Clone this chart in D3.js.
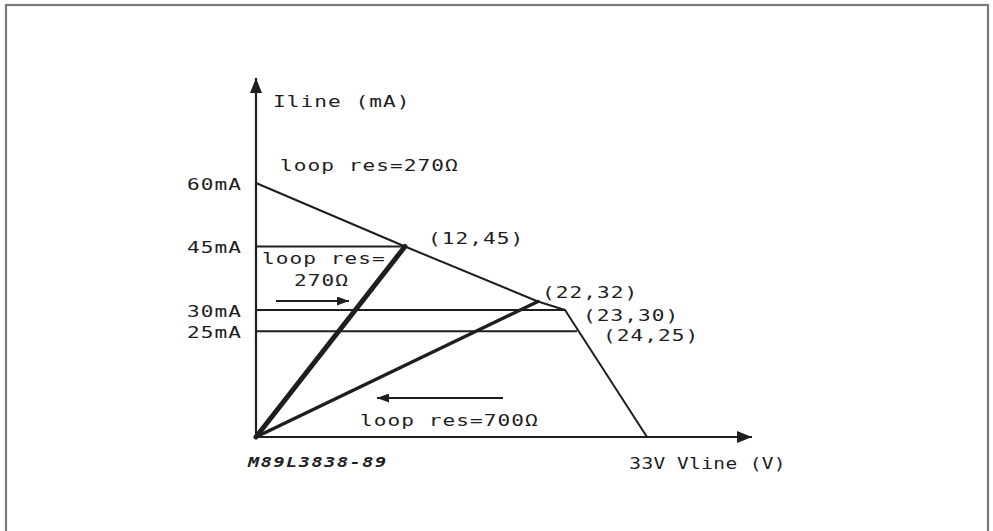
<!DOCTYPE html>
<html>
<head>
<meta charset="utf-8">
<script src="https://cdn.jsdelivr.net/npm/d3@7"></script>
<style>
  html, body { margin: 0; padding: 0; background: #fff; }
  svg { display: block; }
</style>
</head>
<body>
<svg id="chart" width="993" height="531"></svg>
<script>
// ---- Data -------------------------------------------------------------
// Line voltage break points (V) of the DC characteristic
const voltagePoints = [0, 12, 22, 23, 24, 33];
// Current limit curve, [Vline (V), Iline (mA)]
const limitCurve = [[0, 60], [12, 45], [22, 32], [23, 30], [33, 0]];
// Load lines from the origin
const loadLine270 = [[0, 0], [12, 45]];
const loadLine700 = [[0, 0], [22, 32]];
// Horizontal current levels, each ending on the limit curve
const levelEnds = [[12, 45], [23, 30], [24, 25]];
// Labelled operating points
const operatingPoints = [[12, 45], [22, 32], [23, 30], [24, 25]];
// Axis ticks
const currentTicks = [60, 45, 30, 25];
const currentTickLabels = ["60mA", "45mA", "30mA", "25mA"];
const voltageTicks = [33];
const voltageTickLabels = ["33V"];
// Annotation texts
const yTitle = "Iline (mA)";
const xTitle = "Vline (V)";
const upperNote = "loop res=270Ω";
const note270 = ["loop res=", "270Ω"];
const note700 = "loop res=700Ω";
const figureId = "M89L3838-89";

// ---- Layout -----------------------------------------------------------
const svg = d3.select("#chart");
const ink = "#1e1e1e";
const FONT = "'DejaVu Sans Mono', 'Liberation Mono', monospace";
const SX = 1.32;   // horizontal stretch of the plotter-style lettering
const SX_X = 1.22; // slightly narrower lettering along the voltage axis

// The voltage axis is schematic: the break points are spread out for legibility
const x = d3.scaleLinear().domain(voltagePoints).range([256, 405, 538, 565, 577, 647]);
const y = d3.scaleLinear().domain([0, 60]).range([437, 183]);
const xTip = 752, yTip = 78;

// frame
svg.append("rect")
  .attr("x", 6).attr("y", 5).attr("width", 982).attr("height", 560)
  .attr("fill", "none").attr("stroke", "#7a7a7a").attr("stroke-width", 2.2);

const defs = svg.append("defs");
function arrowMarker(id, len, half) {
  defs.append("marker")
    .attr("id", id).attr("markerUnits", "userSpaceOnUse")
    .attr("markerWidth", len).attr("markerHeight", half * 2)
    .attr("refX", len).attr("refY", half).attr("orient", "auto")
    .append("path")
    .attr("d", `M0,0 L${len},${half} L0,${half * 2} Z`)
    .attr("fill", ink);
}
arrowMarker("axisHead", 15, 6);
arrowMarker("noteHead", 12, 4.5);

function plotText(parent, txt, px, py, opts = {}) {
  const sx = opts.sx || SX;
  const t = parent.append("text")
    .attr("transform", `translate(${px},${py}) scale(${sx},1)`)
    .attr("font-family", FONT)
    .attr("font-size", opts.size || 16)
    .attr("letter-spacing", opts.spacing != null ? opts.spacing : 0.8)
    .attr("fill", ink)
    .text(txt);
  if (opts.weight) t.attr("font-weight", opts.weight);
  if (opts.style) t.attr("font-style", opts.style);
  if (opts.anchor) t.attr("text-anchor", opts.anchor);
  return t;
}

const line = d3.line().x(d => x(d[0])).y(d => y(d[1]));

// axes with arrow heads
svg.append("line")
  .attr("x1", x(0)).attr("y1", y(0)).attr("x2", x(0)).attr("y2", yTip)
  .attr("stroke", ink).attr("stroke-width", 2.2).attr("marker-end", "url(#axisHead)");
svg.append("line")
  .attr("x1", x(0)).attr("y1", y(0)).attr("x2", xTip).attr("y2", y(0))
  .attr("stroke", ink).attr("stroke-width", 2.2).attr("marker-end", "url(#axisHead)");

// y tick labels through d3.axisLeft
const yAxis = svg.append("g")
  .attr("transform", `translate(${x(0)},0)`)
  .call(d3.axisLeft(y).tickValues(currentTicks).tickSize(0)
        .tickFormat((d, i) => currentTickLabels[i]));
yAxis.select(".domain").remove();
yAxis.selectAll(".tick text")
  .attr("x", null).attr("dy", null)
  .attr("transform", `translate(-14,6) scale(${SX},1)`)
  .attr("font-family", FONT).attr("font-size", 16)
  .attr("letter-spacing", 0.8).attr("fill", ink)
  .attr("text-anchor", "end");

// x tick label through d3.axisBottom
const xAxis = svg.append("g")
  .attr("transform", `translate(0,${y(0)})`)
  .call(d3.axisBottom(x).tickValues(voltageTicks).tickSize(0)
        .tickFormat((d, i) => voltageTickLabels[i]));
xAxis.select(".domain").remove();
xAxis.selectAll(".tick text")
  .attr("y", null).attr("dy", null)
  .attr("transform", `translate(0,32) scale(${SX_X},1)`)
  .attr("font-family", FONT).attr("font-size", 16)
  .attr("letter-spacing", 0.3).attr("fill", ink)
  .attr("text-anchor", "middle");

// horizontal current levels
svg.selectAll("line.level").data(levelEnds).join("line")
  .attr("class", "level")
  .attr("x1", x(0)).attr("x2", d => x(d[0]))
  .attr("y1", d => y(d[1])).attr("y2", d => y(d[1]))
  .attr("stroke", ink).attr("stroke-width", 2);

// limit curve
svg.append("path").attr("d", line(limitCurve))
  .attr("fill", "none").attr("stroke", ink).attr("stroke-width", 2)
  .attr("stroke-linejoin", "round");

// load lines
svg.append("path").attr("d", line(loadLine700))
  .attr("fill", "none").attr("stroke", ink).attr("stroke-width", 3.4)
  .attr("stroke-linecap", "round");
svg.append("path").attr("d", line(loadLine270))
  .attr("fill", "none").attr("stroke", ink).attr("stroke-width", 5)
  .attr("stroke-linecap", "round");

// operating point labels
const pointOffsets = [[23, -3], [4, -4], [18, 11], [26, 10]];
operatingPoints.forEach((p, i) => {
  plotText(svg, `(${p[0]},${p[1]})`, x(p[0]) + pointOffsets[i][0], y(p[1]) + pointOffsets[i][1]);
});

// titles and notes
plotText(svg, yTitle, 273, 107);
plotText(svg, upperNote, 280, 171);
plotText(svg, note270[0], 262, 264);
plotText(svg, note270[1], 294, 286);
plotText(svg, note700, 360, 426);
plotText(svg, xTitle, 677, 469, {sx: SX_X, spacing: 0.3});
plotText(svg, figureId, 248, 467, {size: 14, weight: "bold", style: "italic", spacing: 1.2});

// direction arrows
svg.append("line")
  .attr("x1", 276).attr("y1", 301).attr("x2", 349).attr("y2", 301)
  .attr("stroke", ink).attr("stroke-width", 1.8).attr("marker-end", "url(#noteHead)");
svg.append("line")
  .attr("x1", 503).attr("y1", 398).attr("x2", 377).attr("y2", 398)
  .attr("stroke", ink).attr("stroke-width", 1.8).attr("marker-end", "url(#noteHead)");
</script>
</body>
</html>
